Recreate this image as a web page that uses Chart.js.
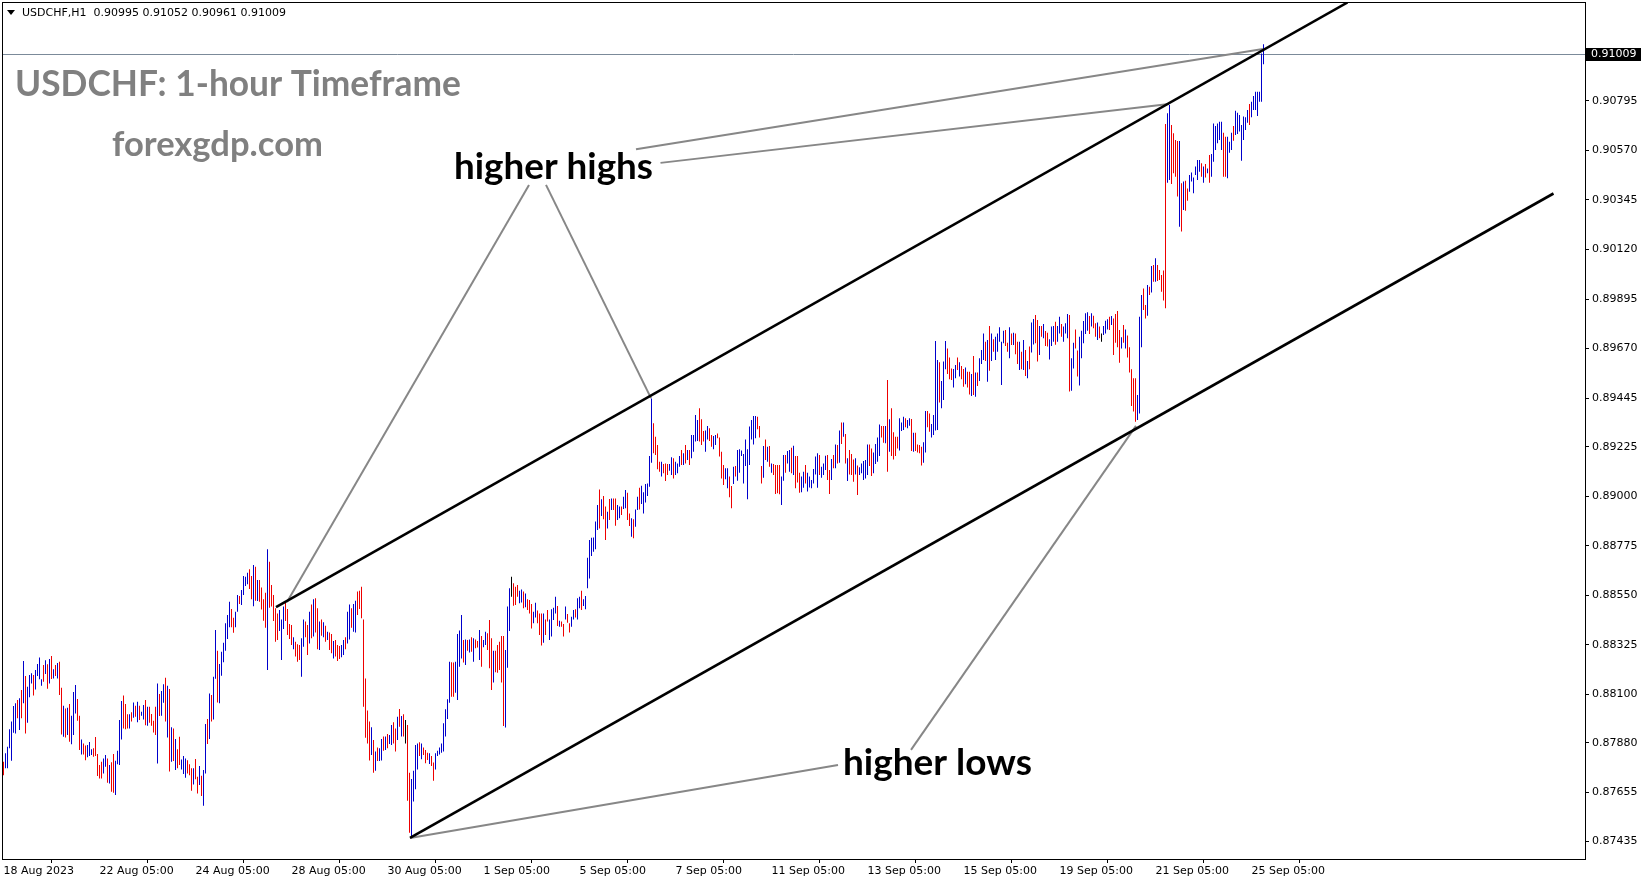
<!DOCTYPE html>
<html lang="en">
<head>
<meta charset="UTF-8">
<title>USDCHF H1</title>
<script src="https://cdn.jsdelivr.net/npm/chart.js@4"></script>
<style>
  html, body { margin: 0; padding: 0; background: #fff; }
  #wrap { width: 1649px; height: 884px; }
</style>
</head>
<body>
<div id="wrap"><canvas id="chart" width="1649" height="884"></canvas></div>
<script>
// hourly bars, 18 Aug 2023 -> 25 Sep 2023
const highs = [
  0.87795, 0.87833, 0.87863, 0.87942, 0.87977, 0.88048, 0.88060, 0.88075, 0.88083, 0.88120,
  0.88252, 0.88184, 0.88135, 0.88188, 0.88196, 0.88188, 0.88211, 0.88238, 0.88268, 0.88169,
  0.88234, 0.88256, 0.88237, 0.88261, 0.88275, 0.88215, 0.88234, 0.88243, 0.88249, 0.88131,
  0.88049, 0.88036, 0.88040, 0.88057, 0.88004, 0.88111, 0.88143, 0.88080, 0.88004, 0.87896,
  0.87878, 0.87868, 0.87871, 0.87884, 0.87852, 0.87856, 0.87907, 0.87830, 0.87780, 0.87795,
  0.87810, 0.87825, 0.87810, 0.87780, 0.87792, 0.87830, 0.87799, 0.87845, 0.87984, 0.88070,
  0.88095, 0.88057, 0.88010, 0.88010, 0.88020, 0.88064, 0.88049, 0.88067, 0.88049, 0.88022,
  0.88052, 0.88075, 0.88045, 0.88045, 0.88011, 0.87981, 0.88045, 0.88150, 0.88102, 0.88116,
  0.88146, 0.88176, 0.88140, 0.88125, 0.87951, 0.87946, 0.87898, 0.87852, 0.87908, 0.87805,
  0.87821, 0.87810, 0.87802, 0.87783, 0.87765, 0.87765, 0.87807, 0.87727, 0.87775, 0.87731,
  0.87757, 0.87966, 0.87989, 0.88105, 0.88098, 0.88181, 0.88393, 0.88299, 0.88238, 0.88294,
  0.88335, 0.88423, 0.88461, 0.88521, 0.88488, 0.88448, 0.88476, 0.88552, 0.88547, 0.88574,
  0.88638, 0.88635, 0.88653, 0.88668, 0.88638, 0.88688, 0.88680, 0.88620, 0.88620, 0.88586,
  0.88532, 0.88562, 0.88759, 0.88703,
  0.88597, 0.88552, 0.88491, 0.88468, 0.88484, 0.88441, 0.88499, 0.88521, 0.88488, 0.88420,
  0.88416, 0.88360, 0.88340, 0.88328, 0.88325, 0.88355, 0.88441, 0.88431, 0.88416, 0.88476,
  0.88509, 0.88532, 0.88537, 0.88491, 0.88431, 0.88441, 0.88428, 0.88412, 0.88385, 0.88381,
  0.88375, 0.88343, 0.88347, 0.88325, 0.88320, 0.88325, 0.88347, 0.88360, 0.88476, 0.88509,
  0.88491, 0.88511, 0.88526, 0.88567, 0.88571, 0.88589, 0.88441, 0.88173, 0.88027, 0.87977,
  0.87951, 0.87893, 0.87841, 0.87859, 0.87856, 0.87898, 0.87909, 0.87909, 0.87921, 0.87916,
  0.87962, 0.87974, 0.87946, 0.87999, 0.88034, 0.88002, 0.88010, 0.87984, 0.87962, 0.87745,
  0.87717, 0.87754, 0.87871, 0.87878, 0.87883, 0.87878, 0.87860, 0.87848, 0.87836, 0.87833,
  0.87821, 0.87791, 0.87833, 0.87845, 0.87860, 0.87878, 0.87969, 0.88033, 0.88078, 0.88249,
  0.88246, 0.88245, 0.88249, 0.88375, 0.88390, 0.88461, 0.88347, 0.88350, 0.88347, 0.88350,
  0.88360, 0.88355, 0.88350, 0.88343, 0.88393, 0.88366, 0.88347, 0.88385, 0.88378, 0.88438,
  0.88355, 0.88299, 0.88299, 0.88325, 0.88340, 0.88366, 0.88366, 0.88302, 0.88499, 0.88582,
  0.88635, 0.88605, 0.88589, 0.88597, 0.88571, 0.88577, 0.88567, 0.88559, 0.88532, 0.88529,
  0.88511, 0.88476, 0.88517, 0.88481, 0.88468, 0.88468, 0.88468, 0.88441, 0.88484, 0.88441,
  0.88487, 0.88494, 0.88544, 0.88502, 0.88435, 0.88431, 0.88420, 0.88499, 0.88465, 0.88423,
  0.88453, 0.88484, 0.88487, 0.88537, 0.88544, 0.88571, 0.88532, 0.88547, 0.88721, 0.88801,
  0.88812, 0.88813, 0.88885, 0.88960, 0.89031, 0.88986, 0.89001, 0.88953, 0.88930, 0.88987,
  0.88990, 0.88990, 0.88990, 0.88960, 0.88953, 0.88953, 0.88998, 0.89028, 0.89016, 0.88922,
  0.88900, 0.88895, 0.88940, 0.88998, 0.89039, 0.89048, 0.89018, 0.89055, 0.89058, 0.89183,
  0.89444, 0.89331, 0.89270, 0.89232, 0.89157, 0.89157, 0.89146, 0.89149, 0.89146, 0.89146,
  0.89177, 0.89172, 0.89157, 0.89149, 0.89183, 0.89210, 0.89195, 0.89232, 0.89210, 0.89210,
  0.89278, 0.89278, 0.89369, 0.89346, 0.89399, 0.89349, 0.89296, 0.89298, 0.89319, 0.89308,
  0.89278, 0.89273, 0.89278, 0.89285, 0.89267, 0.89202, 0.89142, 0.89127, 0.89127, 0.89089,
  0.89046, 0.89134, 0.89137, 0.89210, 0.89213, 0.89207, 0.89192, 0.89258, 0.89213, 0.89316,
  0.89346, 0.89364, 0.89364, 0.89361, 0.89319, 0.89137, 0.89228, 0.89258, 0.89225, 0.89228,
  0.89149, 0.89146, 0.89142, 0.89142, 0.89142, 0.89089, 0.89187, 0.89187, 0.89205, 0.89210,
  0.89220, 0.89229, 0.89183, 0.89183, 0.89107, 0.89089, 0.89111, 0.89142, 0.89107, 0.89089,
  0.89074, 0.89124, 0.89180, 0.89195, 0.89187, 0.89134, 0.89149, 0.89184, 0.89187, 0.89119,
  0.89169, 0.89187, 0.89235, 0.89232, 0.89298, 0.89335, 0.89335, 0.89282, 0.89172, 0.89210,
  0.89192, 0.89167, 0.89172, 0.89139, 0.89131, 0.89149, 0.89160, 0.89164, 0.89235, 0.89235,
  0.89217, 0.89198, 0.89237, 0.89266, 0.89326, 0.89319, 0.89319, 0.89319, 0.89527, 0.89349,
  0.89399, 0.89290, 0.89270, 0.89270, 0.89354, 0.89335, 0.89361, 0.89354, 0.89346, 0.89354,
  0.89351, 0.89288, 0.89288, 0.89235, 0.89232, 0.89225, 0.89245, 0.89387, 0.89387, 0.89376,
  0.89328, 0.89369, 0.89705, 0.89618, 0.89608, 0.89523, 0.89611, 0.89705, 0.89671, 0.89630,
  0.89580, 0.89577, 0.89596, 0.89630, 0.89608, 0.89591, 0.89577, 0.89584, 0.89565, 0.89565,
  0.89555, 0.89636, 0.89561, 0.89561, 0.89626, 0.89664, 0.89739, 0.89701, 0.89709, 0.89773,
  0.89739, 0.89712, 0.89724, 0.89739, 0.89767, 0.89701, 0.89751, 0.89754, 0.89697, 0.89767,
  0.89739, 0.89742, 0.89739, 0.89701, 0.89701, 0.89656, 0.89709, 0.89664, 0.89614, 0.89679,
  0.89788, 0.89804, 0.89823, 0.89800, 0.89773, 0.89773, 0.89782, 0.89750, 0.89742, 0.89712,
  0.89770, 0.89773, 0.89792, 0.89773, 0.89815, 0.89782, 0.89770, 0.89785, 0.89827, 0.89823,
  0.89626, 0.89697, 0.89757, 0.89661, 0.89724, 0.89751, 0.89795, 0.89830, 0.89835, 0.89818,
  0.89830, 0.89819, 0.89785, 0.89788, 0.89770, 0.89739, 0.89773, 0.89797, 0.89803, 0.89815,
  0.89818, 0.89807, 0.89827, 0.89841, 0.89754, 0.89721, 0.89777, 0.89757, 0.89729, 0.89676,
  0.89576, 0.89535, 0.89535, 0.89459, 0.89815, 0.89913, 0.89943, 0.89868, 0.89959, 0.89951,
  0.90045, 0.90049, 0.90080, 0.90049, 0.90027, 0.90004, 0.90024, 0.90689, 0.90738, 0.90776,
  0.90685, 0.90647, 0.90617, 0.90612, 0.90612, 0.90420, 0.90428, 0.90432, 0.90397, 0.90458,
  0.90469, 0.90447, 0.90496, 0.90526, 0.90526, 0.90511, 0.90496, 0.90508, 0.90488, 0.90549,
  0.90553, 0.90692, 0.90680, 0.90692, 0.90700, 0.90700, 0.90650, 0.90632, 0.90632, 0.90609,
  0.90650, 0.90680, 0.90750, 0.90741, 0.90730, 0.90685, 0.90723, 0.90720, 0.90753, 0.90780,
  0.90791, 0.90817, 0.90836, 0.90836, 0.90836, 0.91010, 0.91052
];
const lows = [
  0.87734, 0.87765, 0.87765, 0.87856, 0.87799, 0.87926, 0.87923, 0.87992, 0.87939, 0.87992,
  0.88060, 0.87923, 0.87972, 0.88087, 0.88150, 0.88095, 0.88123, 0.88184, 0.88169, 0.88140,
  0.88158, 0.88193, 0.88126, 0.88150, 0.88170, 0.88173, 0.88184, 0.88173, 0.88098, 0.87919,
  0.87908, 0.87905, 0.87916, 0.87886, 0.87874, 0.87916, 0.88014, 0.87981, 0.87848, 0.87828,
  0.87828, 0.87802, 0.87815, 0.87821, 0.87825, 0.87818, 0.87821, 0.87730, 0.87719, 0.87719,
  0.87742, 0.87772, 0.87700, 0.87696, 0.87659, 0.87654, 0.87644, 0.87784, 0.87780, 0.87896,
  0.87946, 0.87942, 0.87946, 0.87946, 0.87977, 0.87995, 0.87999, 0.87974, 0.87984, 0.88004,
  0.87987, 0.87961, 0.87958, 0.87972, 0.87958, 0.87928, 0.87916, 0.87787, 0.88002, 0.88004,
  0.88063, 0.87977, 0.87905, 0.87750, 0.87795, 0.87798, 0.87757, 0.87765, 0.87780, 0.87760,
  0.87739, 0.87722, 0.87742, 0.87734, 0.87663, 0.87692, 0.87715, 0.87651, 0.87689, 0.87639,
  0.87595, 0.87742, 0.87875, 0.87898, 0.87977, 0.87987, 0.88172, 0.88064, 0.88060, 0.88185,
  0.88246, 0.88299, 0.88352, 0.88405, 0.88405, 0.88380, 0.88405, 0.88476, 0.88511, 0.88506,
  0.88552, 0.88592, 0.88601, 0.88579, 0.88532, 0.88501, 0.88526, 0.88524, 0.88521, 0.88486,
  0.88435, 0.88403, 0.88211, 0.88494,
  0.88499, 0.88434, 0.88340, 0.88347, 0.88388, 0.88257, 0.88397, 0.88434, 0.88370, 0.88352,
  0.88325, 0.88305, 0.88272, 0.88249, 0.88257, 0.88181, 0.88317, 0.88360, 0.88279, 0.88332,
  0.88355, 0.88363, 0.88381, 0.88305, 0.88302, 0.88367, 0.88360, 0.88340, 0.88347, 0.88302,
  0.88287, 0.88264, 0.88272, 0.88252, 0.88261, 0.88269, 0.88279, 0.88305, 0.88332, 0.88350,
  0.88403, 0.88385, 0.88381, 0.88461, 0.88488, 0.88446, 0.88045, 0.87904, 0.87878, 0.87800,
  0.87825, 0.87745, 0.87754, 0.87798, 0.87798, 0.87800, 0.87845, 0.87848, 0.87856, 0.87875,
  0.87871, 0.87878, 0.87841, 0.87893, 0.87954, 0.87909, 0.87909, 0.87878, 0.87618, 0.87473,
  0.87455, 0.87614, 0.87670, 0.87760, 0.87821, 0.87806, 0.87825, 0.87788, 0.87803, 0.87785,
  0.87775, 0.87709, 0.87760, 0.87821, 0.87828, 0.87836, 0.87841, 0.87909, 0.87989, 0.88063,
  0.88090, 0.88090, 0.88108, 0.88075, 0.88226, 0.88264, 0.88245, 0.88234, 0.88299, 0.88291,
  0.88294, 0.88249, 0.88310, 0.88313, 0.88257, 0.88226, 0.88314, 0.88325, 0.88302, 0.88219,
  0.88120, 0.88155, 0.88201, 0.88199, 0.88211, 0.88154, 0.87957, 0.87950, 0.88222, 0.88388,
  0.88544, 0.88503, 0.88506, 0.88544, 0.88514, 0.88518, 0.88491, 0.88496, 0.88484, 0.88468,
  0.88400, 0.88423, 0.88450, 0.88423, 0.88370, 0.88322, 0.88335, 0.88370, 0.88431, 0.88347,
  0.88363, 0.88438, 0.88468, 0.88411, 0.88408, 0.88408, 0.88363, 0.88441, 0.88426, 0.88381,
  0.88408, 0.88441, 0.88450, 0.88441, 0.88491, 0.88484, 0.88502, 0.88487, 0.88582, 0.88627,
  0.88729, 0.88748, 0.88759, 0.88847, 0.88854, 0.88910, 0.88895, 0.88801, 0.88854, 0.88892,
  0.88937, 0.88937, 0.88866, 0.88892, 0.88900, 0.88915, 0.88942, 0.88945, 0.88892, 0.88865,
  0.88816, 0.88809, 0.88862, 0.88937, 0.88940, 0.88965, 0.88922, 0.88971, 0.89001, 0.89043,
  0.89152, 0.89195, 0.89187, 0.89122, 0.89111, 0.89089, 0.89104, 0.89069, 0.89096, 0.89116,
  0.89096, 0.89081, 0.89096, 0.89104, 0.89134, 0.89142, 0.89142, 0.89149, 0.89164, 0.89142,
  0.89172, 0.89202, 0.89248, 0.89251, 0.89248, 0.89232, 0.89248, 0.89202, 0.89258, 0.89251,
  0.89225, 0.89213, 0.89232, 0.89263, 0.89180, 0.89081, 0.89051, 0.89077, 0.89036, 0.88995,
  0.88945, 0.89055, 0.89089, 0.89070, 0.89107, 0.89183, 0.89058, 0.89137, 0.88986, 0.89142,
  0.89258, 0.89235, 0.89263, 0.89304, 0.89267, 0.89058, 0.89084, 0.89164, 0.89157, 0.89134,
  0.89107, 0.89096, 0.89010, 0.89013, 0.89009, 0.88960, 0.89070, 0.89107, 0.89149, 0.89111,
  0.89104, 0.89096, 0.89036, 0.89062, 0.89016, 0.89018, 0.89039, 0.89058, 0.89021, 0.89040,
  0.89036, 0.89058, 0.89099, 0.89039, 0.89096, 0.89084, 0.89096, 0.89119, 0.89074, 0.89010,
  0.89074, 0.89127, 0.89127, 0.89149, 0.89152, 0.89237, 0.89270, 0.89149, 0.89069, 0.89099,
  0.89096, 0.89066, 0.89099, 0.89006, 0.89096, 0.89104, 0.89074, 0.89081, 0.89096, 0.89137,
  0.89092, 0.89104, 0.89146, 0.89157, 0.89183, 0.89267, 0.89243, 0.89240, 0.89111, 0.89202,
  0.89183, 0.89167, 0.89183, 0.89217, 0.89207, 0.89296, 0.89301, 0.89313, 0.89308, 0.89320,
  0.89205, 0.89202, 0.89205, 0.89198, 0.89195, 0.89139, 0.89152, 0.89198, 0.89313, 0.89293,
  0.89267, 0.89278, 0.89298, 0.89301, 0.89425, 0.89399, 0.89437, 0.89576, 0.89555, 0.89531,
  0.89527, 0.89494, 0.89535, 0.89573, 0.89543, 0.89531, 0.89497, 0.89508, 0.89494, 0.89462,
  0.89455, 0.89459, 0.89452, 0.89500, 0.89523, 0.89600, 0.89618, 0.89614, 0.89520, 0.89570,
  0.89614, 0.89656, 0.89618, 0.89656, 0.89701, 0.89505, 0.89694, 0.89682, 0.89656, 0.89626,
  0.89686, 0.89686, 0.89644, 0.89600, 0.89573, 0.89576, 0.89573, 0.89546, 0.89535, 0.89576,
  0.89652, 0.89689, 0.89694, 0.89611, 0.89641, 0.89724, 0.89717, 0.89682, 0.89679, 0.89621,
  0.89682, 0.89701, 0.89687, 0.89701, 0.89739, 0.89724, 0.89701, 0.89739, 0.89717, 0.89475,
  0.89479, 0.89580, 0.89671, 0.89543, 0.89502, 0.89626, 0.89694, 0.89736, 0.89751, 0.89736,
  0.89770, 0.89762, 0.89724, 0.89709, 0.89717, 0.89701, 0.89732, 0.89739, 0.89757, 0.89754,
  0.89777, 0.89641, 0.89697, 0.89676, 0.89606, 0.89671, 0.89697, 0.89671, 0.89630, 0.89561,
  0.89409, 0.89384, 0.89338, 0.89346, 0.89376, 0.89676, 0.89845, 0.89807, 0.89819, 0.89913,
  0.89925, 0.89974, 0.89974, 0.89977, 0.89981, 0.89928, 0.89888, 0.89853, 0.90423, 0.90435,
  0.90417, 0.90466, 0.90450, 0.90360, 0.90223, 0.90201, 0.90299, 0.90296, 0.90341, 0.90382,
  0.90428, 0.90375, 0.90458, 0.90435, 0.90473, 0.90450, 0.90423, 0.90447, 0.90466, 0.90423,
  0.90450, 0.90518, 0.90571, 0.90602, 0.90617, 0.90571, 0.90450, 0.90450, 0.90443, 0.90559,
  0.90571, 0.90614, 0.90640, 0.90644, 0.90655, 0.90523, 0.90617, 0.90662, 0.90695, 0.90685,
  0.90720, 0.90753, 0.90753, 0.90726, 0.90791, 0.90791, 0.90961
];
// u = closed up (blue), d = closed down (red), n = doji (black)
const barDir = [
  'duuuuuudud', 'uduuuduuuu', 'dududududd', 'ududuuuddu', 'dduuuddddd',
  'uududduuuu', 'dddudududu', 'ududdddudu', 'ududududdu', 'uuddduddud',
  'uududuuduu', 'uuuudduudu', 'uuuddududd', 'ddud',
  'dddduuuddd', 'duddduuddu', 'duddududud', 'duddduuduu', 'duuddddddd',
  'ududuududu', 'uddududndd', 'uuuududddu', 'dduuuuuuuu', 'dduuuududu',
  'dudduduudd', 'duddddduuu', 'nddduududd',
  'duuddduddu', 'uuududdudd', 'uuduuduuuu', 'uuuududdud', 'udduuduudd',
  'uduuduuuuu', 'uddddudddu', 'uduuududud', 'uuuuddduud', 'duudddduud',
  'duduuuuuuu', 'uuudddudud', 'udddduuduu',
  'duddduuduu', 'uuuuduuudd', 'ududududud', 'dduduuuuud', 'duuuuddudu',
  'dddduuuduu', 'dudddduudd', 'uuuuduuudd', 'duududdudd', 'ududuuudud',
  'uduuuuuddu', 'duddududud', 'uuddududdu',
  'uuduuduuud', 'uudduuuuud', 'uddudnuuud', 'uddddududd', 'ddduuuddud',
  'ududdddduud', 'dddududduu', 'uuuudududu', 'uuuuudduuu', 'duuuuuuudu',
  'uuuuuuu'
].join('');

const xTickBars = [0, 48, 96, 144, 192, 240, 288, 336, 384, 432, 480, 528, 576, 624];
const xTickLabels = ['18 Aug 2023', '22 Aug 05:00', '24 Aug 05:00', '28 Aug 05:00', '30 Aug 05:00',
  '1 Sep 05:00', '5 Sep 05:00', '7 Sep 05:00', '11 Sep 05:00', '13 Sep 05:00', '15 Sep 05:00',
  '19 Sep 05:00', '21 Sep 05:00', '25 Sep 05:00'];
const priceTicks = [0.90795, 0.90570, 0.90345, 0.90120, 0.89895, 0.89670, 0.89445, 0.89225,
  0.89000, 0.88775, 0.88550, 0.88325, 0.88100, 0.87880, 0.87655, 0.87435];
const lastPrice = 0.91009;
const header = 'USDCHF,H1  0.90995 0.91052 0.90961 0.91009';

// trend channel, [bar, price] pairs
const upperChannel = [[136.25, 0.88497], [672, 0.91241]];
const lowerChannel = [[203.25, 0.87449], [775, 0.90374]];
// grey pointer lines from the notes, [bar, price, bar, price]
const pointers = [
  [316.25, 0.90575, 629.75, 0.91030],
  [328.5, 0.90513, 582.75, 0.90780],
  [262.75, 0.90413, 141.75, 0.88520],
  [271.25, 0.90413, 323.75, 0.89445],
  [417.25, 0.87780, 203.25, 0.87449],
  [453.75, 0.87849, 566.25, 0.89319]
];
const notes = [
  { text: 'higher highs', bar: 225.25, price: 0.90440, width: 199 },
  { text: 'higher lows', bar: 419.75, price: 0.87735, width: 189 }
];

const UP = '#0000cc', DOWN = '#ee0000';

function fitFont(ctx, text, family, width) {
  ctx.font = 'bold 100px ' + family;
  const size = 100 * width / ctx.measureText(text).width;
  return 'bold ' + size.toFixed(2) + 'px ' + family;
}

const overlay = {
  id: 'overlay',
  beforeDatasetsDraw(chart) {
    const { ctx, chartArea: a, scales: { y } } = chart;
    const py = Math.round(y.getPixelForValue(lastPrice)) + 0.5;
    ctx.save();
    ctx.strokeStyle = '#7b8a99';
    ctx.lineWidth = 1;
    ctx.beginPath();
    ctx.moveTo(a.left, py);
    ctx.lineTo(a.right, py);
    ctx.stroke();
    ctx.restore();
  },
  afterDatasetsDraw(chart) {
    const { ctx, chartArea: a, scales: { x, y } } = chart;
    ctx.save();
    ctx.beginPath();
    ctx.rect(a.left, a.top, a.right - a.left, a.bottom - a.top);
    ctx.clip();

    ctx.strokeStyle = '#878787';
    ctx.lineWidth = 2;
    pointers.forEach(([b1, p1, b2, p2]) => {
      ctx.beginPath();
      ctx.moveTo(x.getPixelForValue(b1), y.getPixelForValue(p1));
      ctx.lineTo(x.getPixelForValue(b2), y.getPixelForValue(p2));
      ctx.stroke();
    });

    ctx.strokeStyle = '#000';
    ctx.lineWidth = 2.6;
    [upperChannel, lowerChannel].forEach(([s, e]) => {
      ctx.beginPath();
      ctx.moveTo(x.getPixelForValue(s[0]), y.getPixelForValue(s[1]));
      ctx.lineTo(x.getPixelForValue(e[0]), y.getPixelForValue(e[1]));
      ctx.stroke();
    });

    // watermark titles
    ctx.fillStyle = '#808080';
    ctx.textBaseline = 'alphabetic';
    ctx.textAlign = 'left';
    let t = 'USDCHF: 1-hour Timeframe';
    ctx.font = fitFont(ctx, t, 'Lato', 446);
    ctx.fillText(t, a.left + 13, a.top + 94);
    t = 'forexgdp.com';
    ctx.font = fitFont(ctx, t, 'Lato', 211);
    ctx.fillText(t, a.left + 110, a.top + 154);

    ctx.fillStyle = '#000';
    notes.forEach(n => {
      ctx.font = fitFont(ctx, n.text, 'Lato', n.width);
      ctx.fillText(n.text, x.getPixelForValue(n.bar), y.getPixelForValue(n.price));
    });
    ctx.restore();
  },
  afterDraw(chart) {
    const { ctx, chartArea: a, scales: { y } } = chart;
    ctx.save();
    ctx.strokeStyle = '#000';
    ctx.lineWidth = 1;
    ctx.strokeRect(a.left + 0.5, a.top + 0.5, a.right - a.left, a.bottom - a.top);

    // symbol header
    ctx.fillStyle = '#000';
    ctx.beginPath();
    ctx.moveTo(a.left + 5, a.top + 8);
    ctx.lineTo(a.left + 13, a.top + 8);
    ctx.lineTo(a.left + 9, a.top + 13);
    ctx.closePath();
    ctx.fill();
    ctx.font = '11px "DejaVu Sans"';
    ctx.textBaseline = 'alphabetic';
    ctx.fillText(header, a.left + 20, a.top + 14);

    // current price tag
    const py = Math.round(y.getPixelForValue(lastPrice));
    ctx.fillRect(a.right + 1, py - 6, 55, 13);
    ctx.fillStyle = '#fff';
    ctx.textBaseline = 'middle';
    ctx.fillText(lastPrice.toFixed(5), a.right + 6, py + 0.5);
    ctx.restore();
  }
};

Chart.defaults.font.family = '"DejaVu Sans", Verdana, sans-serif';
Chart.defaults.font.size = 11;
Chart.defaults.color = '#000';

const bars = highs.map((h, i) => ({ x: i, y: [lows[i], h] }));
const barColors = barDir.split('').map(c => c === 'u' ? UP : c === 'd' ? DOWN : '#000');

new Chart(document.getElementById('chart').getContext('2d'), {
  type: 'bar',
  data: {
    datasets: [{
      data: bars,
      backgroundColor: barColors,
      borderWidth: 0,
      barThickness: 1,
      inflateAmount: 0
    }]
  },
  plugins: [overlay],
  options: {
    responsive: false,
    animation: false,
    layout: { padding: { left: 2, top: 2, right: 0, bottom: 0 } },
    plugins: { legend: { display: false }, tooltip: { enabled: false } },
    scales: {
      x: {
        type: 'linear',
        bounds: 'data',
        offset: false,
        min: -0.75,
        max: 790.75,
        grid: { drawOnChartArea: false, drawTicks: true, tickLength: 4, color: '#000' },
        border: { display: false },
        afterBuildTicks: s => { s.ticks = xTickBars.map(v => ({ value: v })); },
        afterFit: s => { s.height = 25; s.paddingLeft = 0; s.paddingRight = 0; },
        ticks: {
          autoSkip: false, maxRotation: 0, minRotation: 0, align: 'start', padding: 2,
          callback: (v, i) => xTickLabels[i]
        }
      },
      y: {
        position: 'right',
        bounds: 'data',
        min: 0.873534,
        max: 0.912432,
        grid: { drawOnChartArea: false, drawTicks: true, tickLength: 4, color: '#000' },
        border: { display: false },
        afterBuildTicks: s => { s.ticks = priceTicks.map(v => ({ value: v })); },
        afterFit: s => { s.width = 64; s.paddingTop = 0; s.paddingBottom = 0; },
        ticks: { autoSkip: false, padding: 3, callback: v => v.toFixed(5) }
      }
    }
  }
});
</script>
</body>
</html>
